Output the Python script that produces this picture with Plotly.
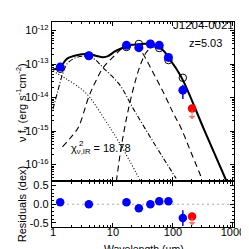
import numpy as np
import plotly.graph_objects as go

# ---- photometry (rest-frame wavelength in micron, log10 nu f_nu in erg s^-1 cm^-2)
phot_wave = [1.32, 3.96, 16.8, 27.0, 42.0, 59.0, 84.0, 146.0]
phot_logf = [-13.09, -12.75, -12.44, -12.51, -12.40, -12.44, -12.80, -13.78]
phot_err = [3e-15, 8e-15, 1.5e-14, 1.5e-14, 2e-14, 2e-14, 2.9e-14, 7.5e-15]
phot_res = [0.05, 0.0, 0.05, -0.11, 0.0, 0.08, 0.08, -0.37]
phot_res_err = [0.02, 0.02, 0.02, 0.02, 0.02, 0.02, 0.08, 0.21]
lim_wave = [208.0]
lim_logf = [-14.33]
lim_res = [-0.33]

# ---- model components
total_wave = [1.0, 1.29, 1.73, 2.48, 3.98, 5.14, 6.88, 8.25, 10.6, 12.8, 17.1, 20.5,
              27.4, 34.1, 42.4, 50.8, 61.0, 73.1, 87.7, 113, 149, 337, 787]
total_logf = [-13.163, -13.104, -12.837, -12.734, -12.704, -12.749, -12.793, -12.763,
              -12.630, -12.556, -12.467, -12.423, -12.408, -12.393, -12.405, -12.438,
              -12.512, -12.645, -12.852, -13.133, -13.509, -14.997, -16.515]

disk_wave = [1.0, 1.73, 3.57, 7.39, 13.7, 28.4]
disk_logf = [-13.213, -13.459, -13.873, -14.672, -15.441, -16.476]

hot_wave = [1.0, 1.20, 1.44, 1.73, 2.31, 3.32, 4.78, 6.88, 12.8, 22.0, 49.0, 113]
hot_logf = [-14.346, -13.814, -13.311, -12.985, -12.822, -12.763, -12.837, -13.112,
            -13.607, -14.346, -15.382, -16.417]

warm_wave = [1.44, 2.15, 2.67, 3.98, 5.14, 6.88, 10.6, 14.2, 18.4, 22.8, 28.4, 45.6,
             70.5, 101, 136, 195, 302]
warm_logf = [-15.470, -15.115, -14.879, -13.962, -13.518, -13.104, -12.749, -12.541,
             -12.482, -12.497, -12.586, -13.222, -13.873, -14.464, -14.908, -15.589,
             -16.417]

cold_wave = [11.4, 13.2, 15.3, 18.4, 22.8, 28.4, 36.6, 45.6, 52.7, 61.0, 73.1, 87.7,
             113, 149, 337, 787]
cold_logf = [-16.506, -15.678, -14.997, -14.287, -13.607, -13.044, -12.630, -12.491,
             -12.497, -12.541, -12.645, -12.852, -13.133, -13.509, -14.997, -16.515]

x_tick_vals = [1, 10, 100, 1000]
x_tick_text = ["1", "10", "100", "1000"]

name_text = "J1204-0021"
z_text = "z=5.03"
chi2_value = "18.78"

FONT = "Liberation Sans, Arial, sans-serif"
BLUE = "#0000ff"
RED = "#ff0000"
RED_LIGHT = "#ff7070"


def lin(v):
    return [10.0 ** x for x in v]


fig = go.Figure()

comp_style = dict(color="black", width=1.1)
fig.add_trace(go.Scatter(x=disk_wave, y=lin(disk_logf), mode="lines",
                         line=dict(dash="1px,2px", shape="spline", **comp_style),
                         xaxis="x", yaxis="y", showlegend=False))
fig.add_trace(go.Scatter(x=hot_wave, y=lin(hot_logf), mode="lines",
                         line=dict(dash="5px,2px,1px,2px", shape="spline", **comp_style),
                         xaxis="x", yaxis="y", showlegend=False))
fig.add_trace(go.Scatter(x=warm_wave, y=lin(warm_logf), mode="lines",
                         line=dict(dash="6px,4px", shape="spline", **comp_style),
                         xaxis="x", yaxis="y", showlegend=False))
fig.add_trace(go.Scatter(x=cold_wave, y=lin(cold_logf), mode="lines",
                         line=dict(dash="6px,4px", shape="spline", **comp_style),
                         xaxis="x", yaxis="y", showlegend=False))
fig.add_trace(go.Scatter(x=total_wave, y=lin(total_logf), mode="lines",
                         line=dict(color="black", width=2, shape="spline"),
                         xaxis="x", yaxis="y", showlegend=False))

# model photometry (open circles)
model_logf = [o - r for o, r in zip(phot_logf, phot_res)]
fig.add_trace(go.Scatter(x=phot_wave, y=lin(model_logf), mode="markers",
                         marker=dict(symbol="circle-open", size=7.5,
                                     line=dict(color="black", width=1), color="black"),
                         xaxis="x", yaxis="y", showlegend=False))

# observed photometry
fig.add_trace(go.Scatter(x=phot_wave, y=lin(phot_logf), mode="markers",
                         marker=dict(size=9, color=BLUE),
                         error_y=dict(type="data", array=phot_err, color=BLUE,
                                      thickness=1.5, width=0),
                         xaxis="x", yaxis="y", showlegend=False))
fig.add_trace(go.Scatter(x=lim_wave, y=lin(lim_logf), mode="markers",
                         marker=dict(size=8.5, color=RED),
                         xaxis="x", yaxis="y", showlegend=False))

# residuals
fig.add_trace(go.Scatter(x=phot_wave, y=phot_res, mode="markers",
                         marker=dict(size=8.5, color=BLUE),
                         error_y=dict(type="data", array=phot_res_err, color=BLUE,
                                      thickness=1.5, width=0),
                         xaxis="x2", yaxis="y2", showlegend=False))
fig.add_trace(go.Scatter(x=lim_wave, y=lim_res, mode="markers",
                         marker=dict(size=8.5, color=RED),
                         xaxis="x2", yaxis="y2", showlegend=False))

annotations = []
# upper-limit arrows
for w, f in zip(lim_wave, lim_logf):
    annotations.append(dict(x=np.log10(w), y=f - 0.32, xref="x", yref="y",
                            ax=0, ay=-11, showarrow=True, arrowhead=1,
                            arrowsize=1.2, arrowwidth=1, arrowcolor=RED_LIGHT, text=""))
for w, r in zip(lim_wave, lim_res):
    annotations.append(dict(x=np.log10(w), y=r - 0.24, xref="x2", yref="y2",
                            ax=0, ay=-9, showarrow=True, arrowhead=1,
                            arrowsize=1.2, arrowwidth=1, arrowcolor=RED_LIGHT, text=""))

# text labels
annotations += [
    dict(text=name_text, xref="paper", yref="paper", x=1.01, y=0.985,
         xanchor="right", yanchor="middle", showarrow=False,
         font=dict(family=FONT, size=11.5, color="black")),
    dict(text=z_text, xref="paper", yref="paper", x=0.845, y=0.9, xanchor="center",
         yanchor="middle", showarrow=False, font=dict(family=FONT, size=11, color="black")),
    dict(text="χ<sub>ν,IR</sub> = " + chi2_value, xref="paper", yref="paper",
         x=0.096, y=0.382, xanchor="left", yanchor="middle", showarrow=False,
         font=dict(family=FONT, size=11, color="black")),
    dict(text="2", xref="paper", yref="paper", x=0.135, y=0.405, xanchor="left",
         yanchor="middle", showarrow=False, font=dict(family=FONT, size=8, color="black")),
    dict(text="ν f<sub>ν</sub> (erg s<sup>-1</sup>cm<sup>-2</sup>)", xref="paper",
         yref="paper", x=-0.165, y=0.61, textangle=-90, xanchor="center",
         yanchor="middle", showarrow=False, font=dict(family=FONT, size=11, color="black")),
    dict(text="Residuals (dex)", xref="paper", yref="paper", x=-0.165, y=0.111,
         textangle=-90, xanchor="center", yanchor="middle", showarrow=False,
         font=dict(family=FONT, size=11, color="black")),
    dict(text="Wavelength (µm)", xref="paper", yref="paper", x=0.505, y=-0.105,
         xanchor="center", yanchor="middle", showarrow=False, borderpad=0,
         font=dict(family=FONT, size=10.5, color="black")),
]

axis_common = dict(showline=True, linecolor="black", linewidth=1.3, mirror="ticks",
                   ticks="inside", ticklen=4, tickcolor="black", tickwidth=1,
                   showgrid=False, zeroline=False,
                   tickfont=dict(family=FONT, size=11, color="black"))

split = 0.2222
fig.update_layout(
    width=249, height=249,
    margin=dict(l=44, r=13, t=12, b=30),
    paper_bgcolor="white", plot_bgcolor="white",
    font=dict(family=FONT, size=11, color="black"),
    xaxis=dict(domain=[0, 1], anchor="y", type="log", range=[-0.016, 3.017],
               showticklabels=False, dtick=1,
               minor=dict(ticks="inside", ticklen=2, dtick="D1", tickcolor="black"),
               **axis_common),
    yaxis=dict(domain=[split, 1], anchor="x", type="log", range=[-16.506, -11.743],
               tickmode="array", tickvals=[1e-16, 1e-15, 1e-14, 1e-13, 1e-12],
               ticktext=["10<sup>-16</sup>", "10<sup>-15</sup>", "10<sup>-14</sup>",
                         "10<sup>-13</sup>", "10<sup>-12</sup>"],
               minor=dict(ticks="inside", ticklen=2, tickmode="linear", dtick="D1",
                          tickcolor="black"),
               **axis_common),
    xaxis2=dict(domain=[0, 1], anchor="y2", type="log", range=[-0.016, 3.017],
                matches="x", tickmode="array", tickvals=x_tick_vals,
                ticktext=x_tick_text, ticklabelstandoff=-5,
                minor=dict(ticks="inside", ticklen=2, tickmode="linear", dtick="D1",
                           tickcolor="black"),
                **axis_common),
    yaxis2=dict(domain=[0, split], anchor="x2", range=[-0.61, 0.61],
                tickmode="array", tickvals=[-0.5, 0.0, 0.5],
                ticktext=["-0.5", "0.0", "0.5"],
                minor=dict(ticks="inside", ticklen=2, dtick=0.1, tickcolor="black"),
                **axis_common),
    annotations=annotations,
    shapes=[dict(type="line", xref="x2 domain", yref="y2", x0=0, x1=1, y0=0, y1=0,
                 line=dict(color="#aaaaaa", width=1, dash="2px,3px"), layer="below")],
)

fig.write_html("out.html")
